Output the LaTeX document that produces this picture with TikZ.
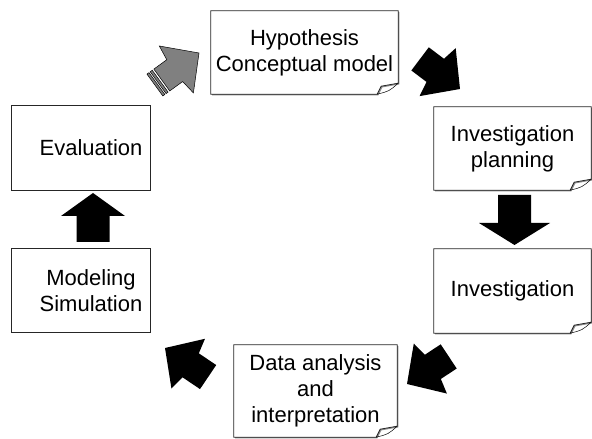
\documentclass[tikz,border=0pt]{standalone}
\usepackage{fontspec}
\setmainfont{Liberation Sans}
\usetikzlibrary{calc,backgrounds,shadows}

\tikzset{
  pics/blockarrow/.style n args={5}{code={%
    \path[pic actions] (0,0) -- (-#1,#2) -- (-#1-#4,#3) -- (-#5,#3)
      -- (-#5,-#3) -- (-#1-#4,-#3) -- (-#1,-#2) -- cycle;
  }},
  pics/tailband/.style 2 args={code={%
    \path[pic actions] (-#1,13.5) rectangle (-#2,-13.5);
  }}
}

\begin{document}
\begin{tikzpicture}[x=1pt,y=1pt,
  card/.style={minimum width=#1,minimum height=83pt,inner sep=0pt,align=center,
    font=\fontsize{22}{26}\selectfont},
  card edge/.style={draw=black!85,line width=0.8pt,fill=white,
    drop shadow={shadow xshift=1.2pt,shadow yshift=-1.2pt,fill=black!45,opacity=1}},
  solid arrow/.style={fill=black},
  grey arrow/.style={fill=black!50,draw=black,line width=0.5pt}]
\useasboundingbox (0,0) rectangle (592,439);

% steps of the cycle
\node[card=187pt] (hyp) at (304.5,386.5) {Hypothesis\\Conceptual model};
\node[card=157pt] (plan) at (512.5,290.5) {Investigation\\planning};
\node[card=157pt,minimum height=84pt] (inv) at (512.5,148) {Investigation};
\node[card=163pt,minimum height=92pt] (data) at (315.5,48) {Data analysis\\and\\interpretation};
\node[card=118pt] (model) at (91,148.5) {Modeling\\Simulation};
\node[card=118pt,minimum height=84pt] (evaluation) at (91,291) {Evaluation};

\begin{scope}[on background layer]
  \foreach \n in {hyp,plan,inv,data} {
    \draw[card edge] (\n.north west) -- (\n.north east) -- ([yshift=11pt]\n.south east)
      -- ([xshift=-17pt,yshift=8pt]\n.south east) -- ([xshift=-21pt]\n.south east)
      -- (\n.south west) -- cycle;
    \draw[line width=0.5pt] ([xshift=-21pt]\n.south east)
      .. controls ([xshift=-9pt,yshift=3pt]\n.south east) .. ([yshift=11pt]\n.south east);
  }
  \foreach \n in {model,evaluation}
    \draw[card edge] ([xshift=-20pt]\n.north west) rectangle (\n.south east);
\end{scope}

% block arrows between the steps
\pic[grey arrow,rotate=36] at (199,386) {blockarrow={28}{29}{13.5}{2}{46}};
\pic[grey arrow,rotate=36] at (199,386) {tailband={48}{50.5}};
\pic[grey arrow,rotate=36] at (199,386) {tailband={52}{54.5}};
\pic[solid arrow,rotate=-37] at (460,350) {blockarrow={28}{30}{14.5}{3}{50}};
\pic[solid arrow,rotate=-90] at (514.5,194) {blockarrow={22}{35.5}{16.5}{0}{50}};
\pic[solid arrow,rotate=-146.5] at (407,55) {blockarrow={28}{30}{14.5}{3}{50}};
\pic[solid arrow,rotate=146] at (165,91) {blockarrow={28}{30}{14.5}{3}{52}};
\pic[solid arrow,rotate=90] at (93,246) {blockarrow={23}{32}{16.5}{0}{49}};
\end{tikzpicture}
\end{document}
